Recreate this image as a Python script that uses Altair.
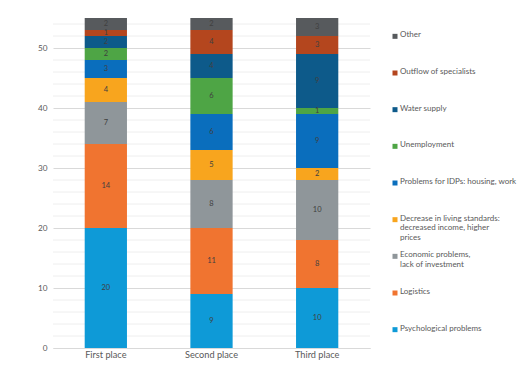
import altair as alt
import pandas as pd

places = ["First place", "Second place", "Third place"]
problems = [
    "Psychological problems",
    "Logistics",
    "Economic problems,\nlack of investment",
    "Decrease in living standards:\ndecreased income, higher\nprices",
    "Problems for IDPs: housing, work",
    "Unemployment",
    "Water supply",
    "Outflow of specialists",
    "Other",
]
first_place = [20, 14, 7, 4, 3, 2, 2, 1, 2]
second_place = [9, 11, 8, 5, 6, 6, 4, 4, 2]
third_place = [10, 8, 10, 2, 9, 1, 9, 3, 3]
colors = ["#0E9AD7", "#F07430", "#8F969A", "#F8A51E", "#0A6EBD",
          "#4EA545", "#0D5A8A", "#B4461E", "#575A5D"]
major_ticks = [0, 10, 20, 30, 40, 50]
minor_ticks = [v for v in range(0, 56, 2) if v % 10 != 0]

rows = []
for place, vals in zip(places, [first_place, second_place, third_place]):
    for i, (p, v) in enumerate(zip(problems, vals)):
        rows.append({"place": place, "problem": p, "value": v, "idx": i})
df = pd.DataFrame(rows)
legend_df = pd.DataFrame({"problem": problems})
legend_order = list(reversed(problems))
minor_df = pd.DataFrame({"v": minor_ticks})

FONT = "Lato"
H = 330
color_scale = alt.Scale(domain=problems, range=colors)
y_scale = alt.Scale(domain=[0, 55], nice=False)
y_axis = alt.Axis(title=None, values=major_ticks, ticks=False,
                  domain=False, labelOverlap=False, labelBound=False,
                  gridColor="#d9d9d9",
                  labelFontSize=8.2, labelColor="#595959", labelFont=FONT,
                  labelPadding=6, minExtent=40, maxExtent=40)

minor_grid = alt.Chart(minor_df).mark_rule(color="#eeeeee", strokeWidth=1).encode(
    y=alt.Y("v:Q", scale=y_scale, axis=y_axis),
)

base = alt.Chart(df).transform_stack(
    stack="value", as_=["y0", "y1"], groupby=["place"],
    sort=[alt.SortField("idx", order="ascending")]
).transform_calculate(mid="(datum.y0 + datum.y1) / 2")

x_enc = alt.X("place:N", sort=places,
              scale=alt.Scale(paddingInner=0.6, paddingOuter=0.3),
              axis=alt.Axis(title=None, labelAngle=0, ticks=False, domain=True,
                            domainColor="#d9d9d9", labelFontSize=9.2,
                            labelColor="#595959", labelFont=FONT, labelPadding=2))

bars = base.mark_bar().encode(
    x=x_enc,
    y=alt.Y("y0:Q", scale=y_scale, axis=y_axis),
    y2="y1:Q",
    color=alt.Color("problem:N", scale=color_scale, legend=None),
)

labels = base.mark_text(fontSize=7.5, color="#404040", font=FONT).encode(
    x=alt.X("place:N", sort=places),
    y=alt.Y("mid:Q", scale=y_scale, axis=y_axis),
    text="value:Q",
)

main = alt.layer(minor_grid, bars, labels).properties(width=317, height=H)

leg_y = alt.Y("problem:N", sort=legend_order, axis=None,
              scale=alt.Scale(paddingInner=0, paddingOuter=0))
leg_sq = alt.Chart(legend_df).mark_square(size=25, opacity=1).encode(
    y=leg_y, x=alt.value(14),
    color=alt.Color("problem:N", scale=color_scale, legend=None),
)
leg_txt = alt.Chart(legend_df).mark_text(
    align="left", baseline="top", dy=-5, lineBreak="\n", lineHeight=9.8,
    fontSize=8, color="#595959", font=FONT
).encode(y=leg_y, x=alt.value(19), text="problem:N")
legend = alt.layer(leg_sq, leg_txt).properties(width=120, height=H)

chart = alt.hconcat(main, legend, spacing=10).properties(
    padding={"left": 5, "top": 10, "right": 0, "bottom": 0}
).configure_view(stroke=None)

chart.save("out.html", embed_options={"renderer": "svg", "actions": False})
